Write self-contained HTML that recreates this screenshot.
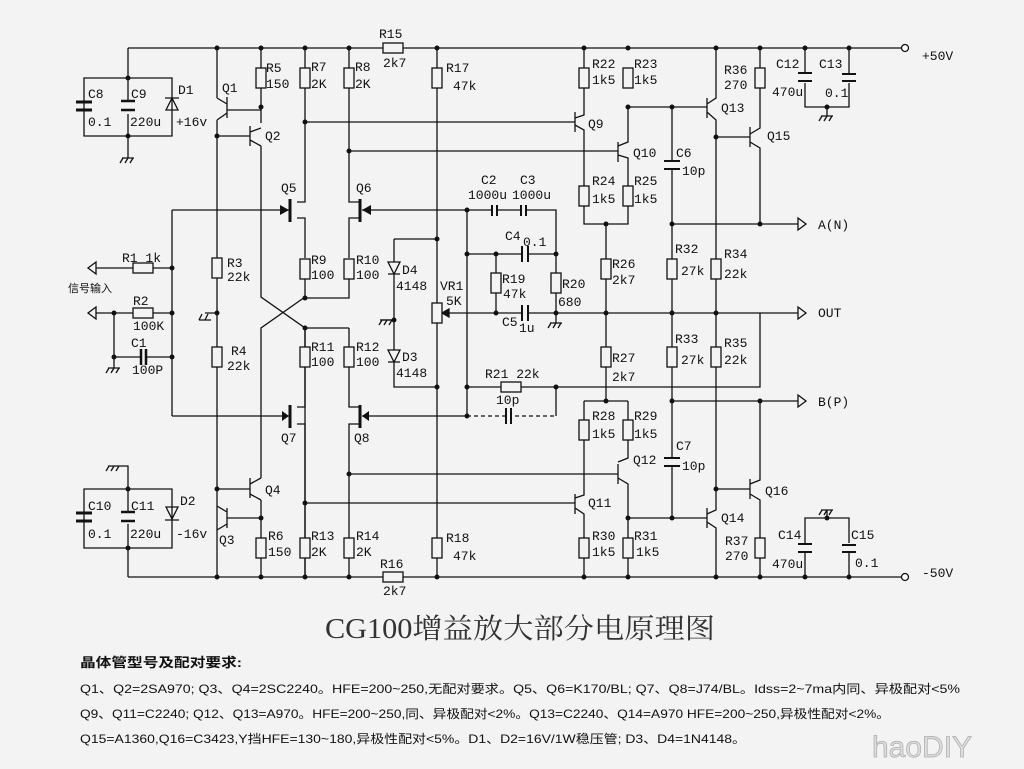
<!DOCTYPE html>
<html><head><meta charset="utf-8"><style>
html,body{margin:0;padding:0;background:#f3f3f3;}
svg{display:block}
text{font-family:"Liberation Mono","Noto Sans CJK SC",monospace;font-size:13px;fill:#111}
.t{font-family:"Liberation Sans","Noto Sans CJK SC",sans-serif;font-size:12px}
</style></head><body>
<svg width="1024" height="769" viewBox="0 0 1024 769" xmlns="http://www.w3.org/2000/svg">
<rect width="1024" height="769" fill="#f3f3f3"/>
<g stroke="#111" stroke-width="1.3" fill="none">
<path d="M128 48H901M128 577H901"/>
<circle cx="905" cy="48" r="3.5" fill="#fff"/><circle cx="905" cy="577" r="3.5" fill="#fff"/>
<path d="M128 48V78M84 78H172V136H84ZM128 78V100M128 114V136M84 78V102M84 110V136M172 78V96M172 110V136M128 136V158"/>
<path d="M76 102H92M76 110H92" stroke-width="3"/>
<path d="M121 101H135M121 110H135" stroke-width="2.5"/>
<path d="M166 110L172 98L178 110ZM165 98H179"/>
<path d="M128 577V548M84 489H172V548H84ZM128 489V466H120M84 489V513M84 521V548M128 489V513M128 524V548M172 489V507M172 520V548"/>
<path d="M76 513H92M76 521H92" stroke-width="3"/>
<path d="M121 512H135M121 521H135" stroke-width="2.5"/>
<path d="M166 507L172 519L178 507ZM165 520H179"/>
<path d="M217 48V98M217 98L227 104M227 97V118M227 110H261M227 113L217 120M217 120V577"/>
<path d="M261 48V68M261 88V123M261 128L250 132M250 126V146M217 136H250M250 140L261 146M261 146V297L305 328V577"/>
<path d="M305 297L261 328V478"/>
<path d="M250 478V498M217 489H250M250 484L261 478M250 494L261 500M261 500V538M261 558V577" />
<path d="M227 508V528M227 518H261M227 512L217 506M227 524L217 530"/>
<path d="M217 313H205M199 320L211 320"/>
<path d="M305 48V68M305 88V202H297M297 218H305V258M305 278V298H349V278M349 258V218H360M360 202H349V88M349 68V48"/>
<path d="M305 122H575M349 151H618"/>
<path d="M290 199V222M360 199V222" stroke-width="3"/>
<path d="M172 210H289M467 210H362"/>
<path d="M305 328H349M305 328V347M305 367V407H297M297 424H305V577M349 328V347M349 367V407H360M360 424H349V577"/>
<path d="M290 405V428M360 405V428" stroke-width="3"/>
<path d="M172 416H289M362 416H467"/>
<path d="M349 474H618M305 503H575"/>
<path d="M437 48V68M437 88V303M437 323V538M437 558V577"/>
<path d="M394 239H437M394 239V262M394 274V350M394 362V387H437M380 320H394"/>
<path d="M388 262L394 274L400 262ZM388 274H400M388 350L394 362L400 350ZM388 362H400"/>
<path d="M88 268H133M153 268H172M88 313H133M153 313H172M172 210V416M114 313V357H140M146 357H172M114 357V368"/>
<path d="M141 349V365M146 349V365" stroke-width="2.5"/>
<path d="M442 313H496M467 210V416M467 210H492M497 210H521M526 210H556V313M467 254H522M528 254H556M496 254V273M496 293V313M556 273V293M496 313H522M528 313H760M760 313H798M760 313V387H556M467 387H501M521 387H556M556 387V416"/>
<path d="M442 313L449 309V317Z" fill="#111"/>
<path d="M467 416H505M515 416H556" stroke-dasharray="4 3"/>
<path d="M492 205V216M497 205V216M521 205V216M526 205V216M522 246V262M528 246V262M522 305V321M528 305V321M506 408V424M511 408V424" stroke-width="2"/>
<path d="M584 48V68M584 88V115L575 118M575 112V132M575 125L584 130V186M584 206V224H628V206M628 186V158L618 155M618 142V162M618 146L628 142V107M628 88V68M628 48"/>
<path d="M606 224V259M606 279V347M606 367V401M584 401H628M584 401V420M584 440V495L575 498M575 494V514M575 508L584 514V538M584 558V577M628 401V420M628 440V458L618 462M618 464V484M618 478L628 484V518M628 538V558M628 518V538M628 558V577"/>
<path d="M628 107H707M672 107V161M672 169V259M672 279V347M672 367V458M672 466V518M628 518H707"/>
<path d="M664 161H680M664 169H680M664 458H680M664 466H680" stroke-width="2"/>
<path d="M707 98V118M707 104L716 98V48M707 112L716 120V259M716 279V347M716 367V510L707 514M707 508V528M707 522L716 528V577M716 137H750M716 489H750"/>
<path d="M750 127V147M750 134L760 128V88M760 68V48M750 142L760 148V224M672 224H798M672 401H798M760 401V480L750 484M750 479V499M750 494L760 500V538M760 558V577"/>
<path d="M805 48V73M805 83V107H849V83M849 73V48M827 107V116M805 577V553M805 543V518H849V543M849 553V577M827 518V510"/>
<path d="M798 73H812M798 81H812M842 74H856M842 81H856M798 544H812M798 552H812M842 545H856M842 552H856" stroke-width="2"/>
<path d="M798 218L806 224L798 230ZM798 307L806 313L798 319ZM798 395L806 401L798 407ZM96 262L88 268L96 274ZM96 307L88 313L96 319Z" fill="#f3f3f3"/>
<path d="M122 158H134M123 158L120 163M128 158L125 163M133 158L130 163M108 368H120M109 368L106 373M114 368L111 373M119 368L116 373M199 320L202 314M205 320L208 314M381 320H393M382 320L379 325M387 320L384 325M392 320L389 325M108 466H120M109 466L106 471M114 466L111 471M119 466L116 471M550 323H562M551 323L548 328M556 323L553 328M561 323L558 328M821 116H833M822 116L819 121M827 116L824 121M832 116L829 121M821 510H833M822 510L819 515M827 510L824 515M832 510L829 515M556 313V323"/>
</g>
<g stroke="#111" stroke-width="1.3" fill="#f3f3f3">
<rect x="256" y="68" width="10" height="20"/><rect x="300" y="68" width="10" height="20"/><rect x="344" y="68" width="10" height="20"/><rect x="432" y="68" width="10" height="20"/>
<rect x="383" y="43" width="20" height="10"/><rect x="383" y="572" width="20" height="10"/>
<rect x="212" y="258" width="10" height="20"/><rect x="212" y="347" width="10" height="20"/>
<rect x="300" y="259" width="10" height="20"/><rect x="344" y="259" width="10" height="20"/>
<rect x="300" y="347" width="10" height="20"/><rect x="344" y="347" width="10" height="20"/>
<rect x="133" y="263" width="20" height="10"/><rect x="133" y="308" width="20" height="10"/>
<rect x="432" y="303" width="10" height="20"/><rect x="491" y="273" width="10" height="20"/><rect x="551" y="273" width="10" height="20"/>
<rect x="501" y="382" width="20" height="10"/>
<rect x="256" y="538" width="10" height="20"/><rect x="300" y="538" width="10" height="20"/><rect x="344" y="538" width="10" height="20"/><rect x="432" y="538" width="10" height="20"/>
<rect x="579" y="68" width="10" height="20"/><rect x="623" y="68" width="10" height="20"/><rect x="755" y="68" width="10" height="20"/>
<rect x="579" y="186" width="10" height="20"/><rect x="623" y="186" width="10" height="20"/>
<rect x="601" y="259" width="10" height="20"/><rect x="667" y="259" width="10" height="20"/><rect x="711" y="259" width="10" height="20"/>
<rect x="601" y="347" width="10" height="20"/><rect x="667" y="347" width="10" height="20"/><rect x="711" y="347" width="10" height="20"/>
<rect x="579" y="420" width="10" height="20"/><rect x="623" y="420" width="10" height="20"/>
<rect x="579" y="538" width="10" height="20"/><rect x="623" y="538" width="10" height="20"/><rect x="755" y="538" width="10" height="20"/>
</g>
<g fill="#111">
<circle cx="217" cy="48" r="2.5"/><circle cx="261" cy="48" r="2.5"/><circle cx="305" cy="48" r="2.5"/><circle cx="349" cy="48" r="2.5"/><circle cx="437" cy="48" r="2.5"/><circle cx="584" cy="48" r="2.5"/><circle cx="628" cy="48" r="2.5"/><circle cx="716" cy="48" r="2.5"/><circle cx="760" cy="48" r="2.5"/><circle cx="805" cy="48" r="2.5"/><circle cx="849" cy="48" r="2.5"/>
<circle cx="128" cy="78" r="2.5"/><circle cx="128" cy="136" r="2.5"/><circle cx="261" cy="107" r="2.5"/><circle cx="217" cy="136" r="2.5"/><circle cx="305" cy="122" r="2.5"/><circle cx="349" cy="151" r="2.5"/>
<circle cx="172" cy="268" r="2.5"/><circle cx="172" cy="313" r="2.5"/><circle cx="114" cy="313" r="2.5"/><circle cx="114" cy="357" r="2.5"/><circle cx="172" cy="357" r="2.5"/><circle cx="217" cy="313" r="2.5"/>
<circle cx="305" cy="298" r="2.5"/><circle cx="305" cy="328" r="2.5"/><circle cx="437" cy="239" r="2.5"/><circle cx="437" cy="387" r="2.5"/><circle cx="394" cy="320" r="2.5"/>
<circle cx="467" cy="210" r="2.5"/><circle cx="467" cy="254" r="2.5"/><circle cx="496" cy="254" r="2.5"/><circle cx="556" cy="254" r="2.5"/><circle cx="496" cy="313" r="2.5"/><circle cx="556" cy="313" r="2.5"/><circle cx="606" cy="313" r="2.5"/><circle cx="672" cy="313" r="2.5"/><circle cx="716" cy="313" r="2.5"/>
<circle cx="467" cy="387" r="2.5"/><circle cx="556" cy="387" r="2.5"/><circle cx="467" cy="416" r="2.5"/>
<circle cx="128" cy="489" r="2.5"/><circle cx="128" cy="548" r="2.5"/><circle cx="217" cy="489" r="2.5"/><circle cx="261" cy="518" r="2.5"/><circle cx="349" cy="474" r="2.5"/><circle cx="305" cy="503" r="2.5"/>
<circle cx="217" cy="577" r="2.5"/><circle cx="261" cy="577" r="2.5"/><circle cx="305" cy="577" r="2.5"/><circle cx="349" cy="577" r="2.5"/><circle cx="437" cy="577" r="2.5"/><circle cx="584" cy="577" r="2.5"/><circle cx="628" cy="577" r="2.5"/><circle cx="716" cy="577" r="2.5"/><circle cx="760" cy="577" r="2.5"/><circle cx="805" cy="577" r="2.5"/><circle cx="849" cy="577" r="2.5"/>
<circle cx="628" cy="107" r="2.5"/><circle cx="672" cy="107" r="2.5"/><circle cx="716" cy="137" r="2.5"/><circle cx="606" cy="224" r="2.5"/><circle cx="672" cy="224" r="2.5"/><circle cx="760" cy="224" r="2.5"/><circle cx="827" cy="107" r="2.5"/>
<circle cx="606" cy="401" r="2.5"/><circle cx="672" cy="401" r="2.5"/><circle cx="760" cy="401" r="2.5"/><circle cx="716" cy="489" r="2.5"/><circle cx="628" cy="518" r="2.5"/><circle cx="672" cy="518" r="2.5"/><circle cx="827" cy="518" r="2.5"/>
<path d="M289 210L280 205V215ZM362 210L371 205V215ZM289 416L282 411V421ZM362 416L369 411V421Z"/>
</g>
<text x="88" y="98">C8</text><text x="88" y="126">0.1</text><text x="131" y="98">C9</text><text x="130" y="126">220u</text><text x="178" y="94">D1</text><text x="176" y="126">+16v</text>
<text x="222" y="92">Q1</text><text x="265" y="140">Q2</text><text x="266" y="72">R5</text><text x="266" y="88">150</text>
<text x="311" y="71">R7</text><text x="311" y="88">2K</text><text x="355" y="71">R8</text><text x="355" y="88">2K</text>
<text x="379" y="38">R15</text><text x="383" y="67">2k7</text><text x="446" y="72">R17</text><text x="453" y="90">47k</text>
<text x="281" y="192">Q5</text><text x="356" y="192">Q6</text>
<text x="122" y="262">R1 1k</text><text x="227" y="267">R3</text><text x="227" y="281">22k</text><text x="311" y="264">R9</text><text x="311" y="279">100</text><text x="356" y="264">R10</text><text x="356" y="279">100</text>
<text x="402" y="274">D4</text><text x="396" y="290">4148</text><text x="440" y="290">VR1</text><text x="446" y="305">5K</text>
<text class="t" x="68" y="292" style="font-size:11px">信号输入</text>
<text x="133" y="305">R2</text><text x="133" y="330">100K</text><text x="131" y="347">C1</text><text x="132" y="374">100P</text>
<text x="231" y="355">R4</text><text x="227" y="370">22k</text><text x="311" y="351">R11</text><text x="311" y="366">100</text><text x="356" y="351">R12</text><text x="356" y="366">100</text>
<text x="402" y="361">D3</text><text x="396" y="377">4148</text>
<text x="281" y="442">Q7</text><text x="354" y="442">Q8</text>
<text x="88" y="510">C10</text><text x="88" y="538">0.1</text><text x="131" y="510">C11</text><text x="130" y="538">220u</text><text x="180" y="505">D2</text><text x="176" y="538">-16v</text>
<text x="265" y="494">Q4</text><text x="219" y="544">Q3</text><text x="268" y="540">R6</text><text x="268" y="556">150</text>
<text x="311" y="540">R13</text><text x="311" y="556">2K</text><text x="356" y="540">R14</text><text x="356" y="556">2K</text>
<text x="380" y="568">R16</text><text x="383" y="595">2k7</text><text x="446" y="542">R18</text><text x="453" y="560">47k</text>
<text x="481" y="184">C2</text><text x="468" y="199">1000u</text><text x="520" y="184">C3</text><text x="512" y="199">1000u</text>
<text x="505" y="240">C4</text><text x="523" y="246">0.1</text><text x="502" y="283">R19</text><text x="503" y="298">47k</text><text x="562" y="288">R20</text><text x="558" y="306">680</text>
<text x="502" y="326">C5</text><text x="519" y="332">1u</text>
<text x="485" y="378">R21 22k</text><text x="496" y="404">10p</text>
<text x="592" y="68">R22</text><text x="592" y="84">1k5</text><text x="634" y="68">R23</text><text x="634" y="84">1k5</text>
<text x="588" y="128">Q9</text><text x="633" y="157">Q10</text><text x="676" y="157">C6</text><text x="682" y="175">10p</text>
<text x="592" y="185">R24</text><text x="592" y="203">1k5</text><text x="634" y="185">R25</text><text x="634" y="203">1k5</text>
<text x="724" y="74">R36</text><text x="724" y="89">270</text><text x="721" y="112">Q13</text><text x="767" y="140">Q15</text>
<text x="776" y="68">C12</text><text x="772" y="96">470u</text><text x="819" y="68">C13</text><text x="825" y="97">0.1</text>
<text x="922" y="60">+50V</text><text x="818" y="229">A(N)</text><text x="818" y="317">OUT</text><text x="818" y="406">B(P)</text><text x="922" y="577">-50V</text>
<text x="612" y="268">R26</text><text x="612" y="284">2k7</text><text x="675" y="253">R32</text><text x="681" y="275">27k</text><text x="724" y="258">R34</text><text x="724" y="278">22k</text>
<text x="612" y="362">R27</text><text x="612" y="381">2k7</text><text x="675" y="343">R33</text><text x="681" y="364">27k</text><text x="724" y="347">R35</text><text x="724" y="364">22k</text>
<text x="592" y="420">R28</text><text x="592" y="438">1k5</text><text x="634" y="420">R29</text><text x="634" y="438">1k5</text>
<text x="633" y="464">Q12</text><text x="676" y="450">C7</text><text x="682" y="470">10p</text><text x="588" y="507">Q11</text>
<text x="721" y="522">Q14</text><text x="765" y="495">Q16</text>
<text x="592" y="540">R30</text><text x="592" y="556">1k5</text><text x="634" y="540">R31</text><text x="636" y="556">1k5</text>
<text x="725" y="545">R37</text><text x="725" y="560">270</text><text x="778" y="539">C14</text><text x="772" y="568">470u</text><text x="851" y="539">C15</text><text x="855" y="567">0.1</text>
<text x="325" y="638" style="font-family:'Liberation Serif','Noto Serif CJK SC',serif;font-size:28px;fill:#333" textLength="390" lengthAdjust="spacingAndGlyphs">CG100增益放大部分电原理图</text>
<text class="t" x="80" y="667" style="font-weight:bold;font-size:13px" textLength="162" lengthAdjust="spacingAndGlyphs">晶体管型号及配对要求:</text>
<text class="t" x="80" y="693" textLength="880" lengthAdjust="spacingAndGlyphs">Q1、Q2=2SA970; Q3、Q4=2SC2240。HFE=200~250,无配对要求。Q5、Q6=K170/BL; Q7、Q8=J74/BL。Idss=2~7ma内同、异极配对&lt;5%</text>
<text class="t" x="80" y="718" textLength="810" lengthAdjust="spacingAndGlyphs">Q9、Q11=C2240; Q12、Q13=A970。HFE=200~250,同、异极配对&lt;2%。Q13=C2240、Q14=A970   HFE=200~250,异极性配对&lt;2%。</text>
<text class="t" x="80" y="743" textLength="666" lengthAdjust="spacingAndGlyphs">Q15=A1360,Q16=C3423,Y挡HFE=130~180,异极性配对&lt;5%。D1、D2=16V/1W稳压管; D3、D4=1N4148。</text>
<text x="872" y="757" style="font-family:'Liberation Sans',sans-serif;font-size:30px;fill:#ddd;stroke:#aaa;stroke-width:0.7">haoDIY</text>
</svg>
</body></html>
